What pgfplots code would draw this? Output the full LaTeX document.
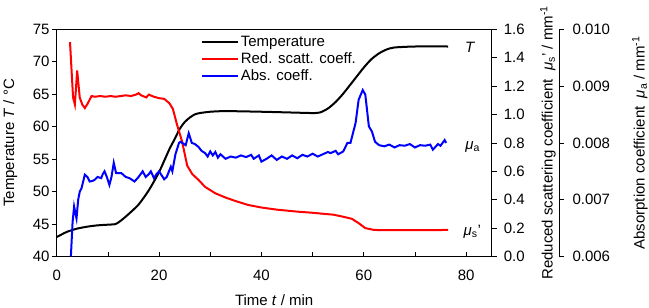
\documentclass[border=0pt]{standalone}
\usepackage{fontspec}
\setmainfont{Liberation Sans}
\usepackage{pgfplots}
\pgfplotsset{compat=1.18}
\pgfplotstableread{
t T
0 43.0
2 43.8
4 44.3
6 44.6
8 44.8
10 44.9
11.5 45.0
12.5 45.5
14 46.5
16 48.0
18 50.2
20 53.0
22 56.5
23 58.0
24 59.6
25 60.7
26 61.4
27 61.9
28 62.1
30 62.3
33 62.4
40 62.3
45 62.2
50 62.1
51.5 62.2
53 62.8
54.5 63.8
56 65.1
58 67.1
60 69.1
61.5 70.4
63 71.3
64.5 71.9
66 72.2
70 72.35
76.5 72.35
}\temptable
\pgfplotstableread{
t mus
2.6 1.51
3.2 1.12
3.55 1.07
4.0 1.31
4.5 1.12
5.0 1.07
5.5 1.045
6.1 1.08
6.8 1.13
7.5 1.125
8.5 1.13
9.5 1.125
10.5 1.13
11.5 1.125
12.5 1.13
13.5 1.135
14.5 1.13
15.5 1.14
16 1.15
16.5 1.135
17.5 1.12
18 1.14
19 1.125
20 1.115
21 1.11
22 1.08
22.7 1.04
23.5 0.93
24.5 0.81
25.5 0.64
26.5 0.58
27.7 0.54
29 0.49
31 0.445
33 0.415
35 0.39
37.4 0.363
40 0.345
43 0.33
47 0.316
50 0.308
52.3 0.30
54 0.295
56 0.28
57.7 0.265
59 0.235
60.3 0.20
62 0.187
65 0.185
70 0.185
76.5 0.187
}\scatttable
\pgfplotstableread{
t mua
2.77 0.0060
3.1 0.0066
3.4 0.00688
3.87 0.00667
4.2 0.0070
4.5 0.00714
4.84 0.0072
5.5 0.00744
6.0 0.0074
6.45 0.00732
7.0 0.00733
7.4 0.00735
8.0 0.0074
8.7 0.00738
9.0 0.00745
9.35 0.0075
9.8 0.0074
10.3 0.00726
10.7 0.0074
11.15 0.00765
11.6 0.00747
12.6 0.00747
13.5 0.0074
14.2 0.00738
15.2 0.00732
16.0 0.0074
16.8 0.0075
17.4 0.0074
18.0 0.00745
18.4 0.0075
19.0 0.00738
19.5 0.00745
20 0.0075
21 0.00736
21.5 0.0074
22.3 0.00758
22.6 0.0075
23.2 0.0078
23.9 0.0080
24.2 0.00802
25.2 0.00796
25.8 0.00817
26.4 0.0080
27 0.00798
27.7 0.00793
28.3 0.00786
29 0.00782
29.5 0.00776
30 0.00785
30.5 0.00778
31 0.00784
31.5 0.00774
32 0.0078
33 0.00772
34 0.00776
35 0.00774
36 0.00778
37 0.00775
38 0.00779
38.5 0.00772
39.5 0.00778
40 0.00767
41 0.00772
42 0.00778
43 0.00770
44 0.00776
45 0.00772
46 0.00778
47 0.00773
48 0.00779
49 0.00776
50 0.00781
51 0.00776
52 0.0078
53 0.00784
53.5 0.00782
54.5 0.00786
55 0.0078
56 0.00785
56.8 0.0080
57.4 0.0080
58.4 0.00835
59.0 0.00876
59.8 0.00893
60.3 0.00885
61 0.00829
61.6 0.0082
62.2 0.00802
63 0.00796
64 0.00794
65 0.00797
66 0.00792
67 0.00796
68 0.00795
69 0.00798
70 0.00792
71 0.00796
72 0.00795
73 0.00797
73.5 0.00788
74.5 0.00798
75 0.00795
75.8 0.00805
76.1 0.0080
}\abstable
\begin{document}
\fontsize{15bp}{18bp}\selectfont
\begin{tikzpicture}
\useasboundingbox (-56.7bp,-51.5bp) rectangle (592.3bp,256.5bp);
\pgfplotsset{
  base/.style={scale only axis, width=435bp, height=227.2bp, at={(0,0)}, anchor=south west,
    /pgf/number format/assume math mode=true,
    scaled ticks=false,
    xmin=0, xmax=85,
    tick style={black, line width=0.7bp},
    axis line style={line width=0.7bp},
    major tick length=5bp,
    tick label style={font=\fontsize{15bp}{18bp}\selectfont},
    label style={font=\fontsize{15bp}{18bp}\selectfont},
  },
}
\begin{axis}[base,
  ymin=40, ymax=75, ytick={40,45,...,75},
  xtick={0,10,...,80}, xticklabels={0,,20,,40,,60,,80},
  xtick pos=bottom, ytick pos=left,
  xtick align=inside, ytick align=outside,
  xticklabel style={yshift=-8bp},
  yticklabel style={xshift=3bp},
  xlabel={Time \textit{t} / min},
  xlabel style={at={(axis description cs:0.5,-0.191)}, anchor=center},
  ylabel={Temperature \textit{T} / °C},
  ylabel style={at={(axis description cs:-0.107,0.5)}, anchor=center},
  legend style={draw=none, fill=none, at={(axis description cs:0.332,0.979)}, anchor=north west,
    font=\fontsize{15bp}{18bp}\selectfont, inner sep=0pt, row sep=1bp, nodes={inner sep=1.5bp}},
  legend cell align=left,
  legend image code/.code={\draw[#1] (0bp,0bp) -- (36bp,0bp);},
  clip=false,
]
\addplot[black, line width=2bp, smooth, tension=0.4] table[x=t, y=T] {\temptable};
\addlegendentry{Temperature}
\addlegendimage{red, line width=2bp}
\addlegendentry{Red. scatt. coeff.}
\addlegendimage{blue, line width=2bp}
\addlegendentry{Abs. coeff.}
\node at (axis cs:80.8,72.2) {\textit{T}};
\node at (axis cs:81.3,56.9) {\textit{μ}\textsubscript{a}};
\node at (axis cs:81.2,43.8) {\textit{μ}\textsubscript{s}'};
\end{axis}
\begin{axis}[base,
  ymin=0, ymax=1.6, ytick={0,0.2,0.4,0.6,0.8,1.0,1.2,1.4,1.6},
  yticklabels={0.0,0.2,0.4,0.6,0.8,1.0,1.2,1.4,1.6},
  axis x line=none, axis y line*=right, ytick align=outside,
  yticklabel style={xshift=2bp},
  ylabel={Reduced scattering coefficient \ \textit{μ}\textsubscript{s}' / mm\textsuperscript{-1}},
  ylabel style={at={(axis description cs:1.1294,0.5)}, anchor=center},
]
\addplot[red, line width=2bp] table[x=t, y=mus] {\scatttable};
\end{axis}
\begin{axis}[base, width=502.6bp, xmax=98.21,
  ymin=0.006, ymax=0.010, ytick={0.006,0.007,0.008,0.009,0.010},
  yticklabels={0.006,0.007,0.008,0.009,0.010},
  axis x line=none, axis y line*=right, ytick align=outside,
  yticklabel style={xshift=3bp},
  ylabel={Absorption coefficient \ \textit{μ}\textsubscript{a} / mm\textsuperscript{-1}},
  ylabel style={at={(axis description cs:1.1606,0.5)}, anchor=center},
]
\addplot[blue, line width=2bp] table[x=t, y=mua] {\abstable};
\end{axis}
\end{tikzpicture}
\end{document}
